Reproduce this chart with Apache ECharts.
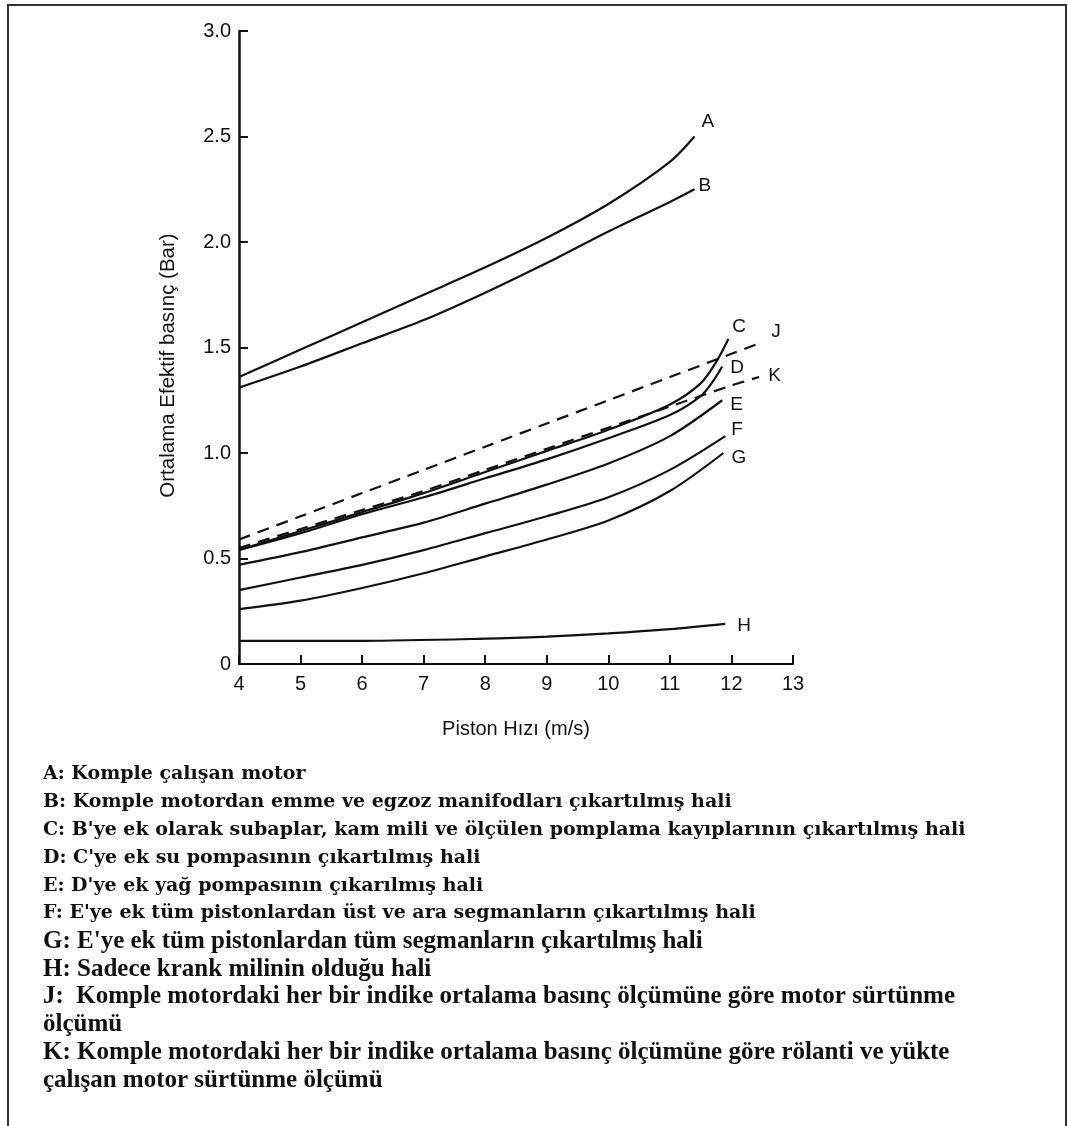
<!DOCTYPE html>
<html>
<head>
<meta charset="utf-8">
<script src="https://cdn.jsdelivr.net/npm/echarts@6/dist/echarts.min.js"></script>
<style>
  html, body { margin: 0; padding: 0; background: #fff; }
  #chart { width: 1068px; height: 1126px; }
</style>
</head>
<body>
<div id="chart"></div>
<script>
// piston speed (m/s) vs mean effective pressure (bar)
const curveA = [[4,1.36],[5,1.49],[6,1.62],[7,1.75],[8,1.88],[9,2.02],[10,2.18],[11,2.38],[11.4,2.50]];
const curveB = [[4,1.31],[5,1.41],[6,1.52],[7,1.63],[8,1.76],[9,1.90],[10,2.05],[11,2.19],[11.4,2.25]];
const curveC = [[4,0.54],[5,0.63],[6,0.72],[7,0.81],[8,0.91],[9,1.01],[10,1.11],[11,1.23],[11.5,1.33],[11.75,1.43],[11.95,1.54]];
const curveD = [[4,0.54],[5,0.62],[6,0.71],[7,0.79],[8,0.88],[9,0.97],[10,1.07],[11,1.18],[11.5,1.27],[11.7,1.34],[11.85,1.41]];
const curveE = [[4,0.47],[5,0.53],[6,0.60],[7,0.67],[8,0.76],[9,0.85],[10,0.95],[11,1.08],[11.85,1.25]];
const curveF = [[4,0.35],[5,0.41],[6,0.47],[7,0.54],[8,0.62],[9,0.70],[10,0.79],[11,0.92],[11.9,1.08]];
const curveG = [[4,0.26],[5,0.30],[6,0.36],[7,0.43],[8,0.51],[9,0.59],[10,0.68],[11,0.82],[11.87,1.00]];
const curveH = [[4,0.11],[6,0.11],[8,0.12],[9,0.13],[10,0.145],[11,0.165],[11.9,0.19]];
const curveJ = [[4,0.59],[5,0.70],[6,0.81],[7,0.92],[8,1.03],[9,1.14],[10,1.25],[11,1.36],[12,1.47],[12.45,1.52]];
const curveK = [[4,0.55],[5,0.64],[6,0.73],[7,0.82],[8,0.92],[9,1.02],[10,1.12],[11,1.22],[12,1.32],[12.45,1.36]];

const yTickLabels = ['0','0.5','1.0','1.5','2.0','2.5','3.0'];

const legendLines = [
  "A: Komple çalışan motor",
  "B: Komple motordan emme ve egzoz manifodları çıkartılmış hali",
  "C: B'ye ek olarak subaplar, kam mili ve ölçülen pomplama kayıplarının çıkartılmış hali",
  "D: C'ye ek su pompasının çıkartılmış hali",
  "E: D'ye ek yağ pompasının çıkarılmış hali",
  "F: E'ye ek tüm pistonlardan üst ve ara segmanların çıkartılmış hali",
  "G: E'ye ek tüm pistonlardan tüm segmanların çıkartılmış hali",
  "H: Sadece krank milinin olduğu hali",
  "J:  Komple motordaki her bir indike ortalama basınç ölçümüne göre motor sürtünme",
  "ölçümü",
  "K: Komple motordaki her bir indike ortalama basınç ölçümüne göre rölanti ve yükte",
  "çalışan motor sürtünme ölçümü"
];

// end label offsets per curve [dx, dy]
const labelOffsets = {
  A:[3,-15], B:[0,-3], C:[0,-12], D:[4,1], E:[4,5], F:[2,-6], G:[4,5], H:[8,2], J:[8,-12], K:[5,-1]
};

let chart = echarts.init(document.getElementById('chart'));

function makeSeries(name, data, dashed){
  return {
    name: name,
    type: 'line',
    data: data,
    smooth: 0.3,
    showSymbol: false,
    symbol: 'none',
    silent: true,
    lineStyle: { color: '#111', width: 2.2, type: dashed ? [12, 8] : 'solid' },
    endLabel: {
      show: true,
      formatter: name,
      color: '#111',
      fontFamily: 'Liberation Sans',
      fontSize: 19,
      distance: 4,
      offset: labelOffsets[name]
    }
  };
}

let graphics = [{
  type: 'rect',
  shape: { x: 8, y: 5, width: 1058, height: 1135 },
  style: { fill: 'none', stroke: '#333', lineWidth: 2 }
}];
for (let i = 0; i < legendLines.length; i++) {
  // the lower part of the list is set in a taller, narrower face
  let narrow = i >= 6;
  graphics.push({
    type: 'text',
    left: 43,
    top: 776 + i * 27.8 - (narrow ? 14 : 11),
    style: {
      text: legendLines[i],
      fill: '#111',
      font: narrow ? 'bold 25px "Liberation Serif"' : 'bold 19px "DejaVu Serif"'
    }
  });
}

let option = {
  animation: false,
  backgroundColor: '#fff',
  grid: { left: 239, top: 31, right: 275, bottom: 462 },
  xAxis: {
    type: 'value',
    min: 4, max: 13, interval: 1,
    name: 'Piston Hızı (m/s)',
    nameLocation: 'middle',
    nameGap: 55,
    nameTextStyle: { color: '#111', fontFamily: 'Liberation Sans', fontSize: 20 },
    axisLine: { show: true, lineStyle: { color: '#111', width: 2 } },
    axisTick: { show: true, inside: true, length: 9, lineStyle: { color: '#111', width: 2 } },
    axisLabel: { color: '#111', fontFamily: 'Liberation Sans', fontSize: 20, margin: 10 },
    splitLine: { show: false }
  },
  yAxis: {
    type: 'value',
    min: 0, max: 3, interval: 0.5,
    name: 'Ortalama Efektif basınç (Bar)',
    nameLocation: 'middle',
    nameGap: 60,
    nameTextStyle: { color: '#111', fontFamily: 'Liberation Sans', fontSize: 20.5, padding: [0, 36, 0, 0] },
    axisLine: { show: true, lineStyle: { color: '#111', width: 2.5 } },
    axisTick: { show: true, inside: true, length: 9, lineStyle: { color: '#111', width: 2 } },
    axisLabel: {
      color: '#111', fontFamily: 'Liberation Sans', fontSize: 20, margin: 8,
      formatter: function(v){ return yTickLabels[Math.round(v * 2)]; }
    },
    splitLine: { show: false }
  },
  graphic: graphics,
  series: [
    makeSeries('A', curveA), makeSeries('B', curveB), makeSeries('C', curveC),
    makeSeries('D', curveD), makeSeries('E', curveE), makeSeries('F', curveF),
    makeSeries('G', curveG), makeSeries('H', curveH),
    makeSeries('J', curveJ, true), makeSeries('K', curveK, true)
  ]
};
chart.setOption(option);
</script>
</body>
</html>
